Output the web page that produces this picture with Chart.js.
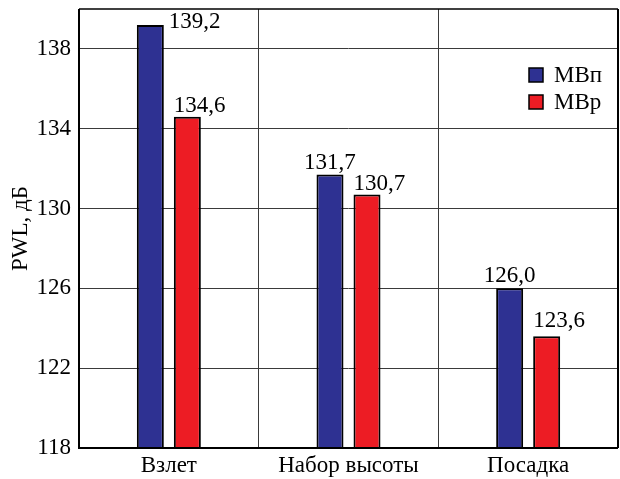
<!DOCTYPE html>
<html>
<head>
<meta charset="utf-8">
<script src="https://cdn.jsdelivr.net/npm/chart.js@4/dist/chart.umd.min.js"></script>
<style>
  html, body { margin: 0; padding: 0; background: #ffffff; }
  #wrap { width: 620px; height: 479px; }
</style>
</head>
<body>
<div id="wrap"><canvas id="chart" width="620" height="479"></canvas></div>
<script>
// Sound level by flight phase for the two modes
const categories = ['Взлет', 'Набор высоты', 'Посадка'];
const seriesNames = ['МВп', 'МВр'];
const mvpValues = [139.2, 131.7, 126.0];
const mvrValues = [134.6, 130.7, 123.6];
const yTickValues = [118, 122, 126, 130, 134, 138];
const yAxisTitle = 'PWL, дБ';
const yMin = 118;
const yMax = 140;

const FONT_FAMILY = "'Liberation Serif', 'Times New Roman', serif";
const FONT_SIZE = 23;
const BLUE = '#2E3192';
const RED = '#ED1C24';

const formatValue = v => v.toFixed(1).replace('.', ',');

// Value captions above the bars
const valueLabels = {
  id: 'valueLabels',
  afterDatasetsDraw(chart, args, opts) {
    const ctx = chart.ctx;
    ctx.save();
    ctx.font = `${FONT_SIZE}px ${FONT_FAMILY}`;
    ctx.fillStyle = '#000';
    ctx.textBaseline = 'middle';
    chart.data.datasets.forEach((ds, di) => {
      const meta = chart.getDatasetMeta(di);
      meta.data.forEach((bar, i) => {
        const place = opts.placement[di][i];
        const half = bar.width / 2;
        let x;
        if (place.align === 'after') {
          ctx.textAlign = 'left';
          x = bar.x + half + place.gap;
        } else if (place.align === 'start') {
          ctx.textAlign = 'left';
          x = bar.x - half;
        } else {
          ctx.textAlign = 'center';
          x = bar.x;
        }
        ctx.fillText(formatValue(ds.data[i]), x, bar.y - place.lift);
      });
    });
    ctx.restore();
  }
};

// Frame around the plot area
const plotFrame = {
  id: 'plotFrame',
  afterDatasetsDraw(chart) {
    const { ctx, chartArea: a } = chart;
    ctx.save();
    ctx.strokeStyle = '#000';
    ctx.lineWidth = 1.5;
    ctx.beginPath();
    ctx.moveTo(a.left, a.top);
    ctx.lineTo(a.right, a.top);
    ctx.stroke();
    ctx.lineWidth = 2;
    ctx.beginPath();
    ctx.moveTo(a.right, a.top);
    ctx.lineTo(a.right, a.bottom);
    ctx.moveTo(a.left, a.top);
    ctx.lineTo(a.left, a.bottom);
    ctx.lineTo(a.right, a.bottom);
    ctx.stroke();
    ctx.restore();
  }
};

// Legend inside the upper right corner of the plot
const insideLegend = {
  id: 'insideLegend',
  afterDraw(chart, args, opts) {
    const { ctx, chartArea: a } = chart;
    ctx.save();
    ctx.font = `${FONT_SIZE}px ${FONT_FAMILY}`;
    ctx.textBaseline = 'middle';
    ctx.textAlign = 'left';
    chart.data.datasets.forEach((ds, i) => {
      const bx = a.right - opts.offsetRight;
      const by = a.top + opts.offsetTop + i * opts.rowGap;
      ctx.fillStyle = ds.backgroundColor;
      ctx.fillRect(bx, by, opts.box, opts.box);
      ctx.strokeStyle = '#000';
      ctx.lineWidth = 1.5;
      ctx.strokeRect(bx, by, opts.box, opts.box);
      ctx.fillStyle = '#000';
      ctx.fillText(ds.label, bx + opts.box + 11, by + opts.box / 2 + 0.5);
    });
    ctx.restore();
  }
};

new Chart(document.getElementById('chart'), {
  type: 'bar',
  data: {
    labels: categories,
    datasets: [
      {
        label: seriesNames[0],
        data: mvpValues,
        backgroundColor: BLUE,
        borderColor: '#000',
        borderWidth: 2,
        borderSkipped: false,
        categoryPercentage: 0.412,
        barPercentage: 0.73
      },
      {
        label: seriesNames[1],
        data: mvrValues,
        backgroundColor: RED,
        borderColor: '#000',
        borderWidth: 2,
        borderSkipped: false,
        categoryPercentage: 0.412,
        barPercentage: 0.73
      }
    ]
  },
  options: {
    responsive: false,
    animation: false,
    devicePixelRatio: 1,
    layout: { padding: { top: 9, right: 2, left: 0, bottom: 0 } },
    plugins: {
      legend: { display: false },
      tooltip: { enabled: false },
      valueLabels: {
        placement: [
          [ { align: 'after', gap: 5, lift: 3 }, { align: 'center', lift: 12 }, { align: 'center', lift: 12 } ],
          [ { align: 'start', lift: 11 }, { align: 'start', lift: 11 }, { align: 'start', lift: 15 } ]
        ]
      },
      insideLegend: { offsetRight: 89, offsetTop: 59, rowGap: 27, box: 14 }
    },
    scales: {
      x: {
        grid: { display: true, offset: true, color: '#3a3a3a', lineWidth: 1, drawTicks: false },
        border: { display: false },
        ticks: {
          color: '#000',
          font: { family: FONT_FAMILY, size: FONT_SIZE },
          padding: 4,
          maxRotation: 0
        },
        afterFit(scale) {
          scale.height = 31;
          scale.paddingLeft = 0;
          scale.paddingRight = 0;
        }
      },
      y: {
        min: yMin,
        max: yMax,
        grid: { color: '#3a3a3a', lineWidth: 1, drawTicks: false },
        border: { display: false },
        ticks: {
          color: '#000',
          font: { family: FONT_FAMILY, size: FONT_SIZE },
          padding: 8
        },
        afterBuildTicks(scale) {
          scale.ticks = yTickValues.map(v => ({ value: v }));
        },
        title: {
          display: true,
          text: yAxisTitle,
          color: '#000',
          font: { family: FONT_FAMILY, size: FONT_SIZE },
          padding: { top: 7, bottom: 0 }
        },
        afterFit(scale) {
          scale.width = 79;
          scale.paddingTop = 0;
          scale.paddingBottom = 0;
        }
      }
    }
  },
  plugins: [valueLabels, plotFrame, insideLegend]
});
</script>
</body>
</html>
